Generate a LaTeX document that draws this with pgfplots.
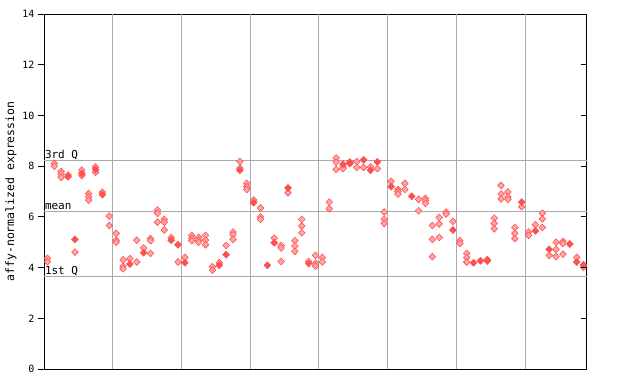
\documentclass[border=0pt]{standalone}
\usepackage{pgfplots}
\pgfplotsset{compat=1.18}
\usepackage{pgfplotstable}
\usepackage{fontspec}
\setmainfont{DejaVu Sans Mono}
\definecolor{gridgray}{RGB}{170,170,170}
\definecolor{ptred}{RGB}{255,80,80}
\definecolor{ptpink}{RGB}{255,165,165}

\pgfplotstableread{
x y
0 4.36
0 4.23
1 8.11
1 8.00
2 7.79
2 7.69
2 7.56
3 7.65
4 4.61
5 7.84
5 7.63
6 6.92
6 6.79
6 6.66
7 7.97
7 7.76
8 6.97
9 6.03
9 5.66
10 5.35
10 5.08
10 5.00
11 4.30
11 4.05
11 3.95
12 4.35
13 5.08
13 4.22
14 4.77
15 5.14
15 5.06
15 4.56
16 6.27
16 6.14
16 5.79
17 5.90
17 5.79
17 5.48
18 5.18
19 4.22
20 4.40
21 5.27
21 5.16
21 5.06
22 5.19
22 5.08
22 5.00
23 5.27
23 5.08
23 4.90
24 4.03
24 3.90
25 4.19
26 4.87
27 5.40
27 5.29
27 5.11
28 8.18
28 7.92
29 7.32
29 7.19
29 7.08
30 6.66
31 6.35
31 6.00
31 5.90
33 5.16
34 4.87
34 4.77
34 4.24
35 6.95
36 5.06
36 4.85
36 4.64
37 5.90
37 5.64
37 5.37
38 4.24
39 4.48
39 4.16
39 4.06
40 4.40
40 4.22
41 6.58
41 6.32
42 8.32
42 8.16
42 7.87
43 7.97
43 7.90
45 8.18
45 7.95
46 7.95
47 7.97
48 7.90
49 6.19
49 5.90
49 5.74
50 7.40
51 7.08
51 7.00
51 6.90
52 7.32
52 7.08
54 6.69
54 6.24
55 6.73
55 6.64
55 6.53
56 5.66
56 5.11
56 4.43
57 5.98
57 5.72
57 5.19
58 6.19
58 6.11
59 5.82
60 5.06
60 4.95
61 4.56
61 4.40
61 4.22
65 5.95
65 5.74
65 5.53
66 7.24
66 6.90
66 6.71
67 6.98
67 6.79
67 6.69
68 5.58
68 5.35
68 5.14
69 6.40
70 5.40
70 5.27
71 5.69
72 6.14
72 5.92
72 5.58
73 4.48
74 5.00
74 4.72
74 4.43
75 5.03
75 4.95
75 4.53
77 4.40
78 4.01
}\hollow

\pgfplotstableread{
x y
3 7.58
4 5.11
5 7.71
7 7.87
8 6.88
12 4.14
14 4.59
18 5.08
19 4.90
20 4.19
25 4.09
26 4.51
28 7.84
30 6.56
32 4.09
33 4.98
35 7.14
38 4.16
43 8.08
44 8.16
44 8.10
46 8.25
47 7.84
48 8.17
50 7.19
53 6.81
59 5.48
62 4.19
63 4.27
64 4.31
64 4.26
69 6.58
71 5.45
73 4.72
76 4.93
77 4.22
78 4.11
}\filled

\begin{document}
\begin{tikzpicture}
\useasboundingbox (-44pt,-15pt) rectangle (596pt,369pt);
\begin{axis}[at={(0,0)}, anchor=south west, scale only axis,
  width=543pt, height=355pt,
  xmin=-0.5, xmax=78.5, ymin=0, ymax=14,
  axis line style={black, line width=1pt},
  ytick={0,2,...,14}, ytick pos=left, tick align=outside,
  major tick length=6pt, tick style={black, line width=0.8pt},
  xtick=\empty,
  extra x ticks={9.5,19.5,...,69.5}, extra x tick labels={},
  extra x tick style={grid=major, major tick length=0pt},
  major grid style={gridgray, line width=1pt},
  /pgf/number format/assume math mode=true,
  tick label style={font=\fontsize{10}{10}\selectfont},
  ylabel={affy-normalized expression},
  every axis y label/.style={at={(axis description cs:0,0.5)}, xshift=-33pt, rotate=90, anchor=center, font=\fontsize{11.5}{12}\selectfont},
  clip=false,
]
\addplot[gridgray, line width=1pt, forget plot] coordinates {(-0.5,8.22) (78.5,8.22)};
\addplot[gridgray, line width=1pt, forget plot] coordinates {(-0.5,6.23) (78.5,6.23)};
\addplot[gridgray, line width=1pt, forget plot] coordinates {(-0.5,3.63) (78.5,3.63)};
\node[anchor=south west, inner sep=0.8pt, font=\fontsize{11}{11}\selectfont] at (axis cs:-0.5,8.22) {3rd Q};
\node[anchor=south west, inner sep=0.8pt, font=\fontsize{11}{11}\selectfont] at (axis cs:-0.5,6.23) {mean};
\node[anchor=south west, inner sep=0.8pt, font=\fontsize{11}{11}\selectfont] at (axis cs:-0.5,3.63) {1st Q};
\addplot[only marks, mark=diamond*, mark size=3.4pt, mark options={xscale=1.3, fill=ptpink, draw=ptred, line width=0.6pt}] table[x=x, y=y] {\hollow};
\addplot[only marks, mark=diamond*, mark size=3.6pt, mark options={xscale=1.3, fill=ptred, draw=ptred, line width=0.4pt}] table[x=x, y=y] {\filled};
\end{axis}
\begin{axis}[at={(0,0)}, anchor=south west, scale only axis,
  width=543pt, height=355pt,
  xmin=-0.5, xmax=78.5, ymin=0, ymax=14,
  axis line style={draw=none}, xtick=\empty,
  ytick={0,2,...,14}, ytick pos=right, tick align=inside, yticklabels={},
  major tick length=6pt, tick style={black, line width=0.8pt},
]
\end{axis}
\end{tikzpicture}
\end{document}
